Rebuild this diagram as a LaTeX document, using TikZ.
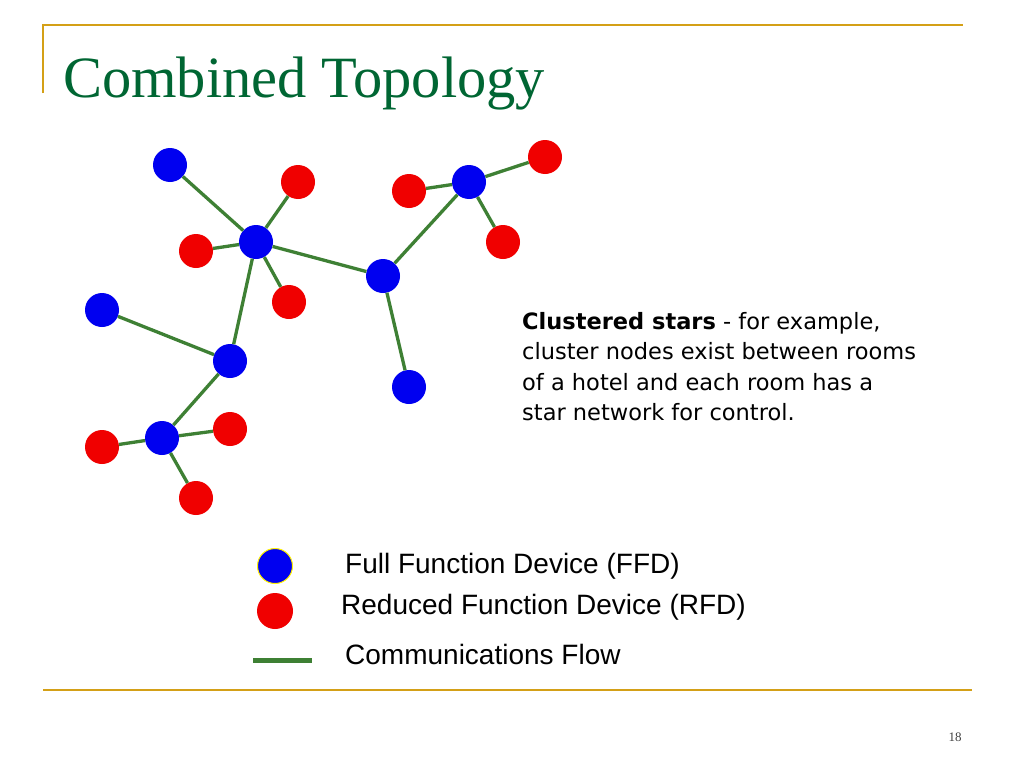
\documentclass[tikz,border=0pt]{standalone}
\usepackage{fontspec}
\setmainfont{Liberation Serif}
\newfontfamily\legfont{Liberation Sans}
\newfontfamily\bodyfont{DejaVu Sans}
\definecolor{gold}{RGB}{212,160,23}
\definecolor{titlegreen}{RGB}{0,102,51}
\definecolor{linkgreen}{RGB}{62,128,52}
\definecolor{ffdblue}{RGB}{0,0,240}
\definecolor{rfdred}{RGB}{240,0,0}
\begin{document}
\begin{tikzpicture}[x=1pt,y=-1pt,
  ffd/.style={circle,fill=ffdblue,minimum size=34pt,inner sep=0pt},
  rfd/.style={circle,fill=rfdred,minimum size=34pt,inner sep=0pt},
  link/.style={linkgreen,line width=3.3pt},
  rule/.style={gold,line width=2pt},
  leg/.style={anchor=west,font=\legfont\fontsize{28}{32}\selectfont,inner sep=0pt}]
\useasboundingbox[fill=white] (0,0) rectangle (1024,768);
% frame rules
\coordinate (t1) at (43,25); \coordinate (t2) at (963,25);
\coordinate (v2) at (43,93);
\coordinate (b1) at (43,690); \coordinate (b2) at (972,690);
\draw[rule] (v2) -- (t1) -- (t2);
\draw[rule] (b1) -- (b2);
% title
\node[anchor=base west,inner sep=0pt,text=titlegreen,font=\fontsize{58.5}{70}\selectfont] (title) at (63,97) {Combined Topology};
% nodes
\node[ffd] (B1) at (170,165) {};
\node[rfd] (R1) at (298,182) {};
\node[ffd] (C) at (256,242) {};
\node[rfd] (R2) at (196,251) {};
\node[rfd] (R3) at (289,302) {};
\node[ffd] (H2) at (383,276) {};
\node[ffd] (H3) at (469,182) {};
\node[rfd] (R4) at (409,191) {};
\node[rfd] (R5) at (545,157) {};
\node[rfd] (R6) at (503,242) {};
\node[ffd] (BB) at (409,387) {};
\node[ffd] (BL) at (102,310) {};
\node[ffd] (BM) at (230,361) {};
\node[ffd] (H4) at (162,438) {};
\node[rfd] (R7) at (102,447) {};
\node[rfd] (R8) at (230,429) {};
\node[rfd] (R9) at (196,498) {};
% links
\draw[link] (B1) -- (C);
\draw[link] (R1) -- (C);
\draw[link] (R2) -- (C);
\draw[link] (R3) -- (C);
\draw[link] (C) -- (H2);
\draw[link] (C) -- (BM);
\draw[link] (H2) -- (H3);
\draw[link] (H2) -- (BB);
\draw[link] (H3) -- (R4);
\draw[link] (H3) -- (R5);
\draw[link] (H3) -- (R6);
\draw[link] (BL) -- (BM);
\draw[link] (BM) -- (H4);
\draw[link] (H4) -- (R7);
\draw[link] (H4) -- (R8);
\draw[link] (H4) -- (R9);
% text block
\node[anchor=north west,inner sep=0pt,align=left,font=\bodyfont\fontsize{22.5}{30.5}\selectfont] (txt) at (522,312)
 {\textbf{Clustered stars} - for example,\\cluster nodes exist between rooms\\of a hotel and each room has a\\star network for control.};
% legend
\node[ffd,draw=yellow,line width=1pt,minimum size=35pt] (lf) at (275,566) {};
\node[rfd,minimum size=36pt] (lr) at (275,611) {};
\coordinate (ll1) at (253,660); \coordinate (ll2) at (312,660);
\draw[linkgreen,line width=5pt] (ll1) -- (ll2);
\node[leg] (tf) at (345,566) {Full Function Device (FFD)};
\node[leg] (tr) at (341,607) {Reduced Function Device (RFD)};
\node[leg] (tc) at (345,654) {Communications Flow};
% page number
\node[text=black!75,font=\fontsize{13}{15}\selectfont,inner sep=0pt] (pg) at (955,737) {18};
\end{tikzpicture}
\end{document}
